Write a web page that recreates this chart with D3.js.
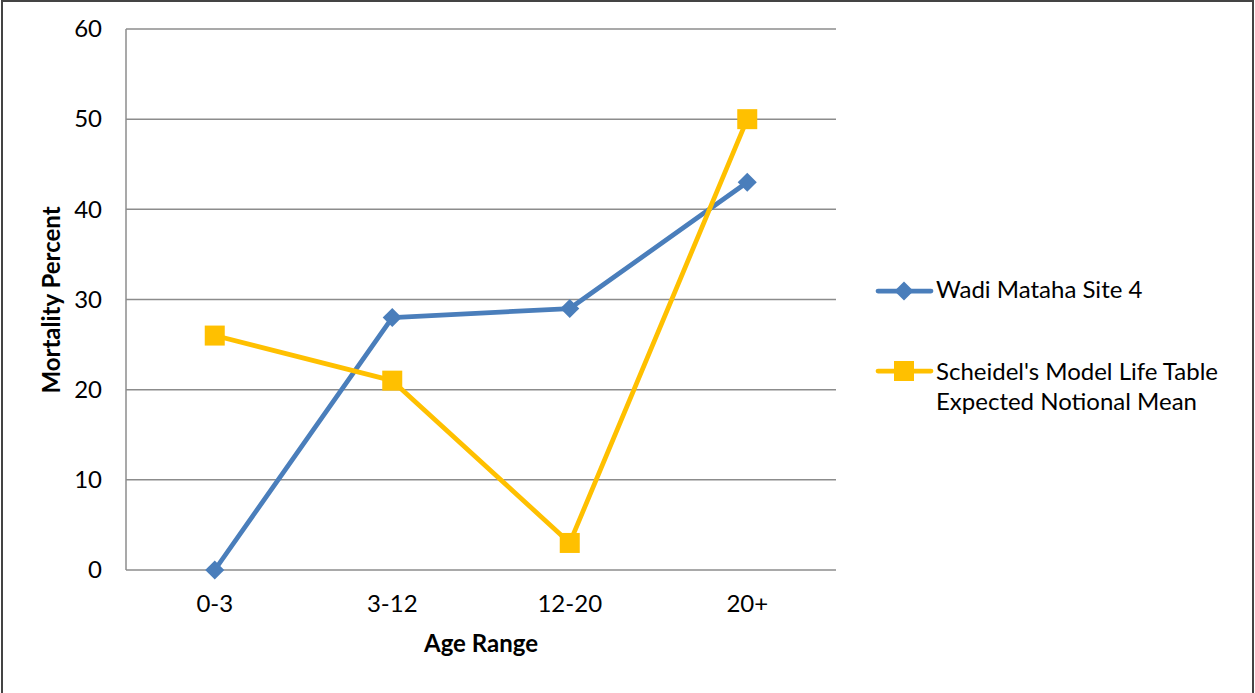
<!DOCTYPE html>
<html><head><meta charset="utf-8">
<script src="https://cdn.jsdelivr.net/npm/d3@7"></script>
<style>
html,body{margin:0;padding:0;background:#fff;}
svg{display:block;font-family:Lato,"Open Sans",sans-serif;}
</style></head><body>
<svg id="c" width="1255" height="693"></svg>
<script>
const categories = ["0-3","3-12","12-20","20+"];
const wadi = [0, 28, 29, 43];
const scheidel = [26, 21, 3, 50];
const yTicks = [0,10,20,30,40,50,60];
const seriesNames = ["Wadi Mataha Site 4", ["Scheidel's Model Life Table","Expected Notional Mean"]];

const FS=24;
const svg = d3.select("#c");
const W=1255,H=693;
// frame
svg.append("path").attr("d",`M2,${H+5} L2,1 L1253,1 L1253,${H+5}`)
  .attr("fill","none").attr("stroke","#444").attr("stroke-width",2);

const m={l:126,r:836,t:29,b:570};
const x=d3.scaleBand().domain(categories).range([m.l,m.r]);
const y=d3.scaleLinear().domain([0,60]).range([m.b,m.t]);

// gridlines
svg.append("g").selectAll("line").data(yTicks).join("line")
  .attr("x1",m.l).attr("x2",m.r).attr("y1",d=>y(d)).attr("y2",d=>y(d))
  .attr("stroke","#8c8c8c").attr("stroke-width",1.5);
// y axis line
svg.append("line").attr("x1",m.l).attr("x2",m.l).attr("y1",m.t).attr("y2",m.b)
  .attr("stroke","#8c8c8c").attr("stroke-width",1.5);

// y tick labels
const yAx=d3.axisLeft(y).tickValues(yTicks).tickSize(0).tickPadding(24);
const gy=svg.append("g").attr("transform",`translate(${m.l},0)`).call(yAx);
gy.select(".domain").remove();
gy.selectAll("text").attr("font-size",FS).attr("fill","#000").attr("font-family","Lato,'Open Sans',sans-serif");

// x tick labels
const xAx=d3.axisBottom(x).tickSize(0).tickPadding(25);
const gx=svg.append("g").attr("transform",`translate(0,${m.b})`).call(xAx);
gx.select(".domain").remove();
gx.selectAll("text").attr("font-size",FS).attr("fill","#000").attr("font-family","Lato,'Open Sans',sans-serif");

// axis titles
svg.append("text").attr("x",481).attr("y",652).attr("text-anchor","middle")
  .attr("font-size",FS).attr("font-weight","bold").text("Age Range");
svg.append("text").attr("transform","translate(60,300) rotate(-90)").attr("text-anchor","middle")
  .attr("font-size",FS).attr("font-weight","bold").text("Mortality Percent");

const cx=d=>x(d)+x.bandwidth()/2;
const line=d3.line().x((d,i)=>cx(categories[i])).y(d=>y(d));

const blue="#4a7ebb", gold="#ffc000";
svg.append("path").datum(wadi).attr("d",line).attr("fill","none").attr("stroke",blue).attr("stroke-width",4.75).attr("stroke-linejoin","round");
svg.append("path").datum(scheidel).attr("d",line).attr("fill","none").attr("stroke",gold).attr("stroke-width",4.75).attr("stroke-linejoin","round");

const diamond=(g,px,py,s)=>g.append("rect").attr("x",-s/2).attr("y",-s/2).attr("width",s).attr("height",s)
  .attr("fill",blue).attr("transform",`translate(${px},${py}) rotate(45)`);
const square=(g,px,py,s)=>g.append("rect").attr("x",px-s/2).attr("y",py-s/2).attr("width",s).attr("height",s).attr("fill",gold);

const mk=svg.append("g");
wadi.forEach((v,i)=>diamond(mk,cx(categories[i]),y(v),13.5));
scheidel.forEach((v,i)=>square(mk,cx(categories[i]),y(v),20));

// legend
const lg=svg.append("g");
lg.append("line").attr("x1",878).attr("x2",931).attr("y1",291).attr("y2",291).attr("stroke",blue).attr("stroke-width",4.75).attr("stroke-linecap","round");
diamond(lg,904,291,13.5);
lg.append("text").attr("x",936).attr("y",298).attr("font-size",FS).text(seriesNames[0]);
lg.append("line").attr("x1",878).attr("x2",931).attr("y1",371).attr("y2",371).attr("stroke",gold).attr("stroke-width",4.75).attr("stroke-linecap","round");
square(lg,904,371,20);
lg.append("text").attr("x",936).attr("y",380).attr("font-size",FS).text(seriesNames[1][0]);
lg.append("text").attr("x",936).attr("y",410).attr("font-size",FS).text(seriesNames[1][1]);
</script>
</body></html>
